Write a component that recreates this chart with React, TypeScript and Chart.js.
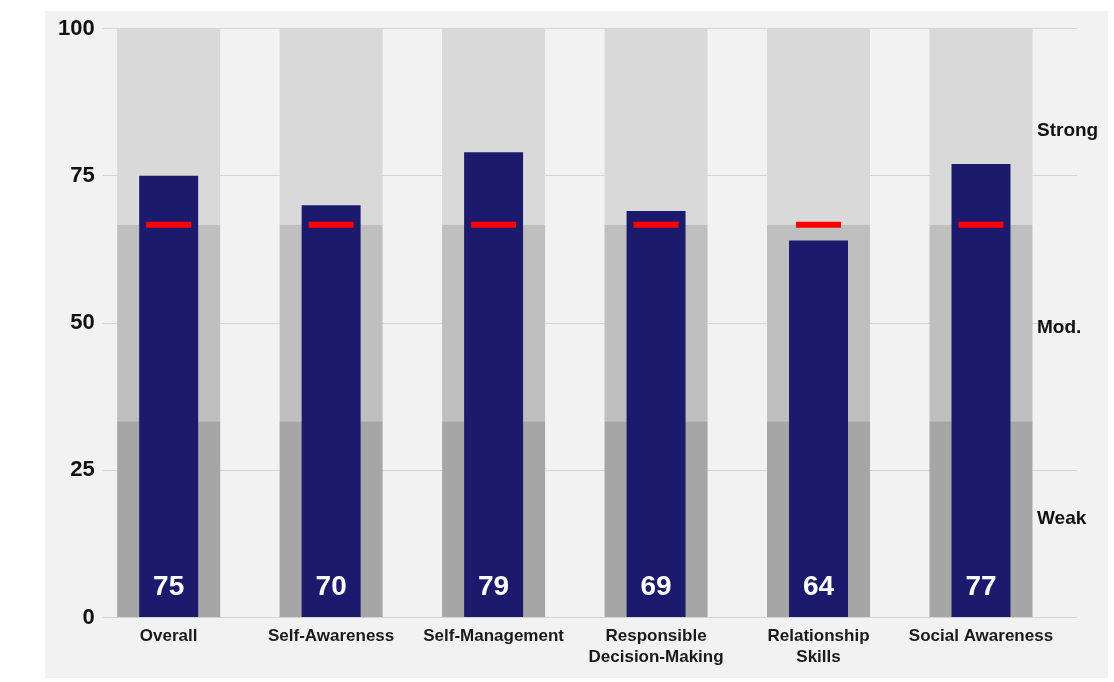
import { useEffect, useRef } from "react";
import { Chart, registerables } from "chart.js";

Chart.register(...registerables);

const CATEGORIES: string[][] = [
  ["Overall"],
  ["Self-Awareness"],
  ["Self-Management"],
  ["Responsible", "Decision-Making"],
  ["Relationship", "Skills"],
  ["Social Awareness"],
];
const SCORES = [75, 70, 79, 69, 64, 77];
const TARGETS = [66.7, 66.7, 66.7, 66.7, 66.7, 66.7];
const BAND_EDGES = [0, 33.3, 66.7, 100];
const BAND_NAMES = ["Weak", "Mod.", "Strong"];
const Y_TICKS = [0, 25, 50, 75, 100];

const FONT = "'Liberation Sans', Arial, Helvetica, sans-serif";
const BAND_COLORS = ["#a6a6a6", "#bfbfbf", "#d9d9d9"];
const NAVY = "#1b1a6c";
const RED = "#ff0000";

export default function App() {
  const ref = useRef<HTMLCanvasElement>(null);

  useEffect(() => {
    const canvas = ref.current;
    if (!canvas) return;

    const bandDatasets = BAND_NAMES.map((name, b) => ({
      type: "bar" as const,
      label: name,
      data: CATEGORIES.map((_, i) => ({ x: i, y: [BAND_EDGES[b], BAND_EDGES[b + 1]] })),
      backgroundColor: BAND_COLORS[b],
      barPercentage: 0.634,
      categoryPercentage: 1,
      grouped: false,
      order: 3,
    }));

    const panelPlugin = {
      id: "panel",
      beforeDraw(chart: any) {
        const c = chart.ctx;
        c.save();
        c.fillStyle = "#ffffff";
        c.fillRect(0, 0, chart.width, chart.height);
        c.fillStyle = "#f2f2f2";
        c.fillRect(45, 11, 1063, 667);
        c.restore();
      },
    };

    const labelPlugin = {
      id: "labels",
      afterDatasetsDraw(chart: any) {
        const c = chart.ctx;
        const y = chart.scales.y;
        const meta = chart.getDatasetMeta(3);
        c.save();
        c.fillStyle = "#ffffff";
        c.font = `bold 28px ${FONT}`;
        c.textAlign = "center";
        c.textBaseline = "middle";
        meta.data.forEach((el: any, i: number) => {
          c.fillText(String(SCORES[i]), el.x, y.getPixelForValue(0) - 30);
        });
        c.fillStyle = "#111111";
        c.font = `bold 19px ${FONT}`;
        c.textAlign = "left";
        const shifts = [-1, 5, 4];
        BAND_NAMES.forEach((name, b) => {
          const mid = (BAND_EDGES[b] + BAND_EDGES[b + 1]) / 2;
          c.fillText(name, chart.chartArea.right - 40, y.getPixelForValue(mid) + shifts[b]);
        });
        c.restore();
      },
    };

    const chart = new Chart(canvas, {
      type: "bar",
      data: {
        datasets: [
          ...bandDatasets,
          {
            type: "bar" as const,
            label: "Score",
            data: SCORES.map((v, i) => ({ x: i, y: v })),
            backgroundColor: NAVY,
            barPercentage: 0.363,
            categoryPercentage: 1,
            grouped: false,
            order: 2,
          },
          {
            type: "line" as const,
            label: "Target",
            data: TARGETS.map((v, i) => ({ x: i, y: v })),
            showLine: false,
            pointStyle: "line",
            pointRadius: 22.5,
            pointHoverRadius: 22.5,
            borderColor: RED,
            backgroundColor: RED,
            borderWidth: 6,
            pointBorderWidth: 6,
            order: 1,
          },
        ] as any,
      },
      options: {
        responsive: false,
        animation: false,
        layout: { padding: { top: 27, left: 50, right: 37, bottom: 14 } },
        plugins: {
          legend: { display: false },
          tooltip: { enabled: false },
        },
        scales: {
          x: {
            type: "linear",
            offset: false,
            min: -0.406,
            max: 5.591,
            grid: { display: false },
            border: { display: false },
            ticks: {
              stepSize: 1,
              includeBounds: false,
              autoSkip: false,
              maxRotation: 0,
              padding: 0,
              color: "#1a1a1a",
              font: { family: FONT, size: 17, weight: "bold", lineHeight: 1.25 },
              callback: (v: any) => CATEGORIES[v as number] ?? "",
            },
          },
          y: {
            min: 0,
            max: 100,
            afterBuildTicks: (scale: any) => {
              scale.ticks = Y_TICKS.map((v) => ({ value: v }));
            },
            grid: { color: "#d4d4d4", lineWidth: 1, drawTicks: false },
            border: { display: false },
            ticks: {
              padding: 8,
              color: "#111111",
              font: { family: FONT, size: 22, weight: "bold" },
            },
          },
        },
      } as any,
      plugins: [panelPlugin, labelPlugin],
    });

    return () => chart.destroy();
  }, []);

  return (
    <div style={{ position: "absolute", left: 0, top: 0, width: 1114, height: 682 }}>
      <canvas ref={ref} width={1114} height={682} style={{ display: "block" }} />
    </div>
  );
}
